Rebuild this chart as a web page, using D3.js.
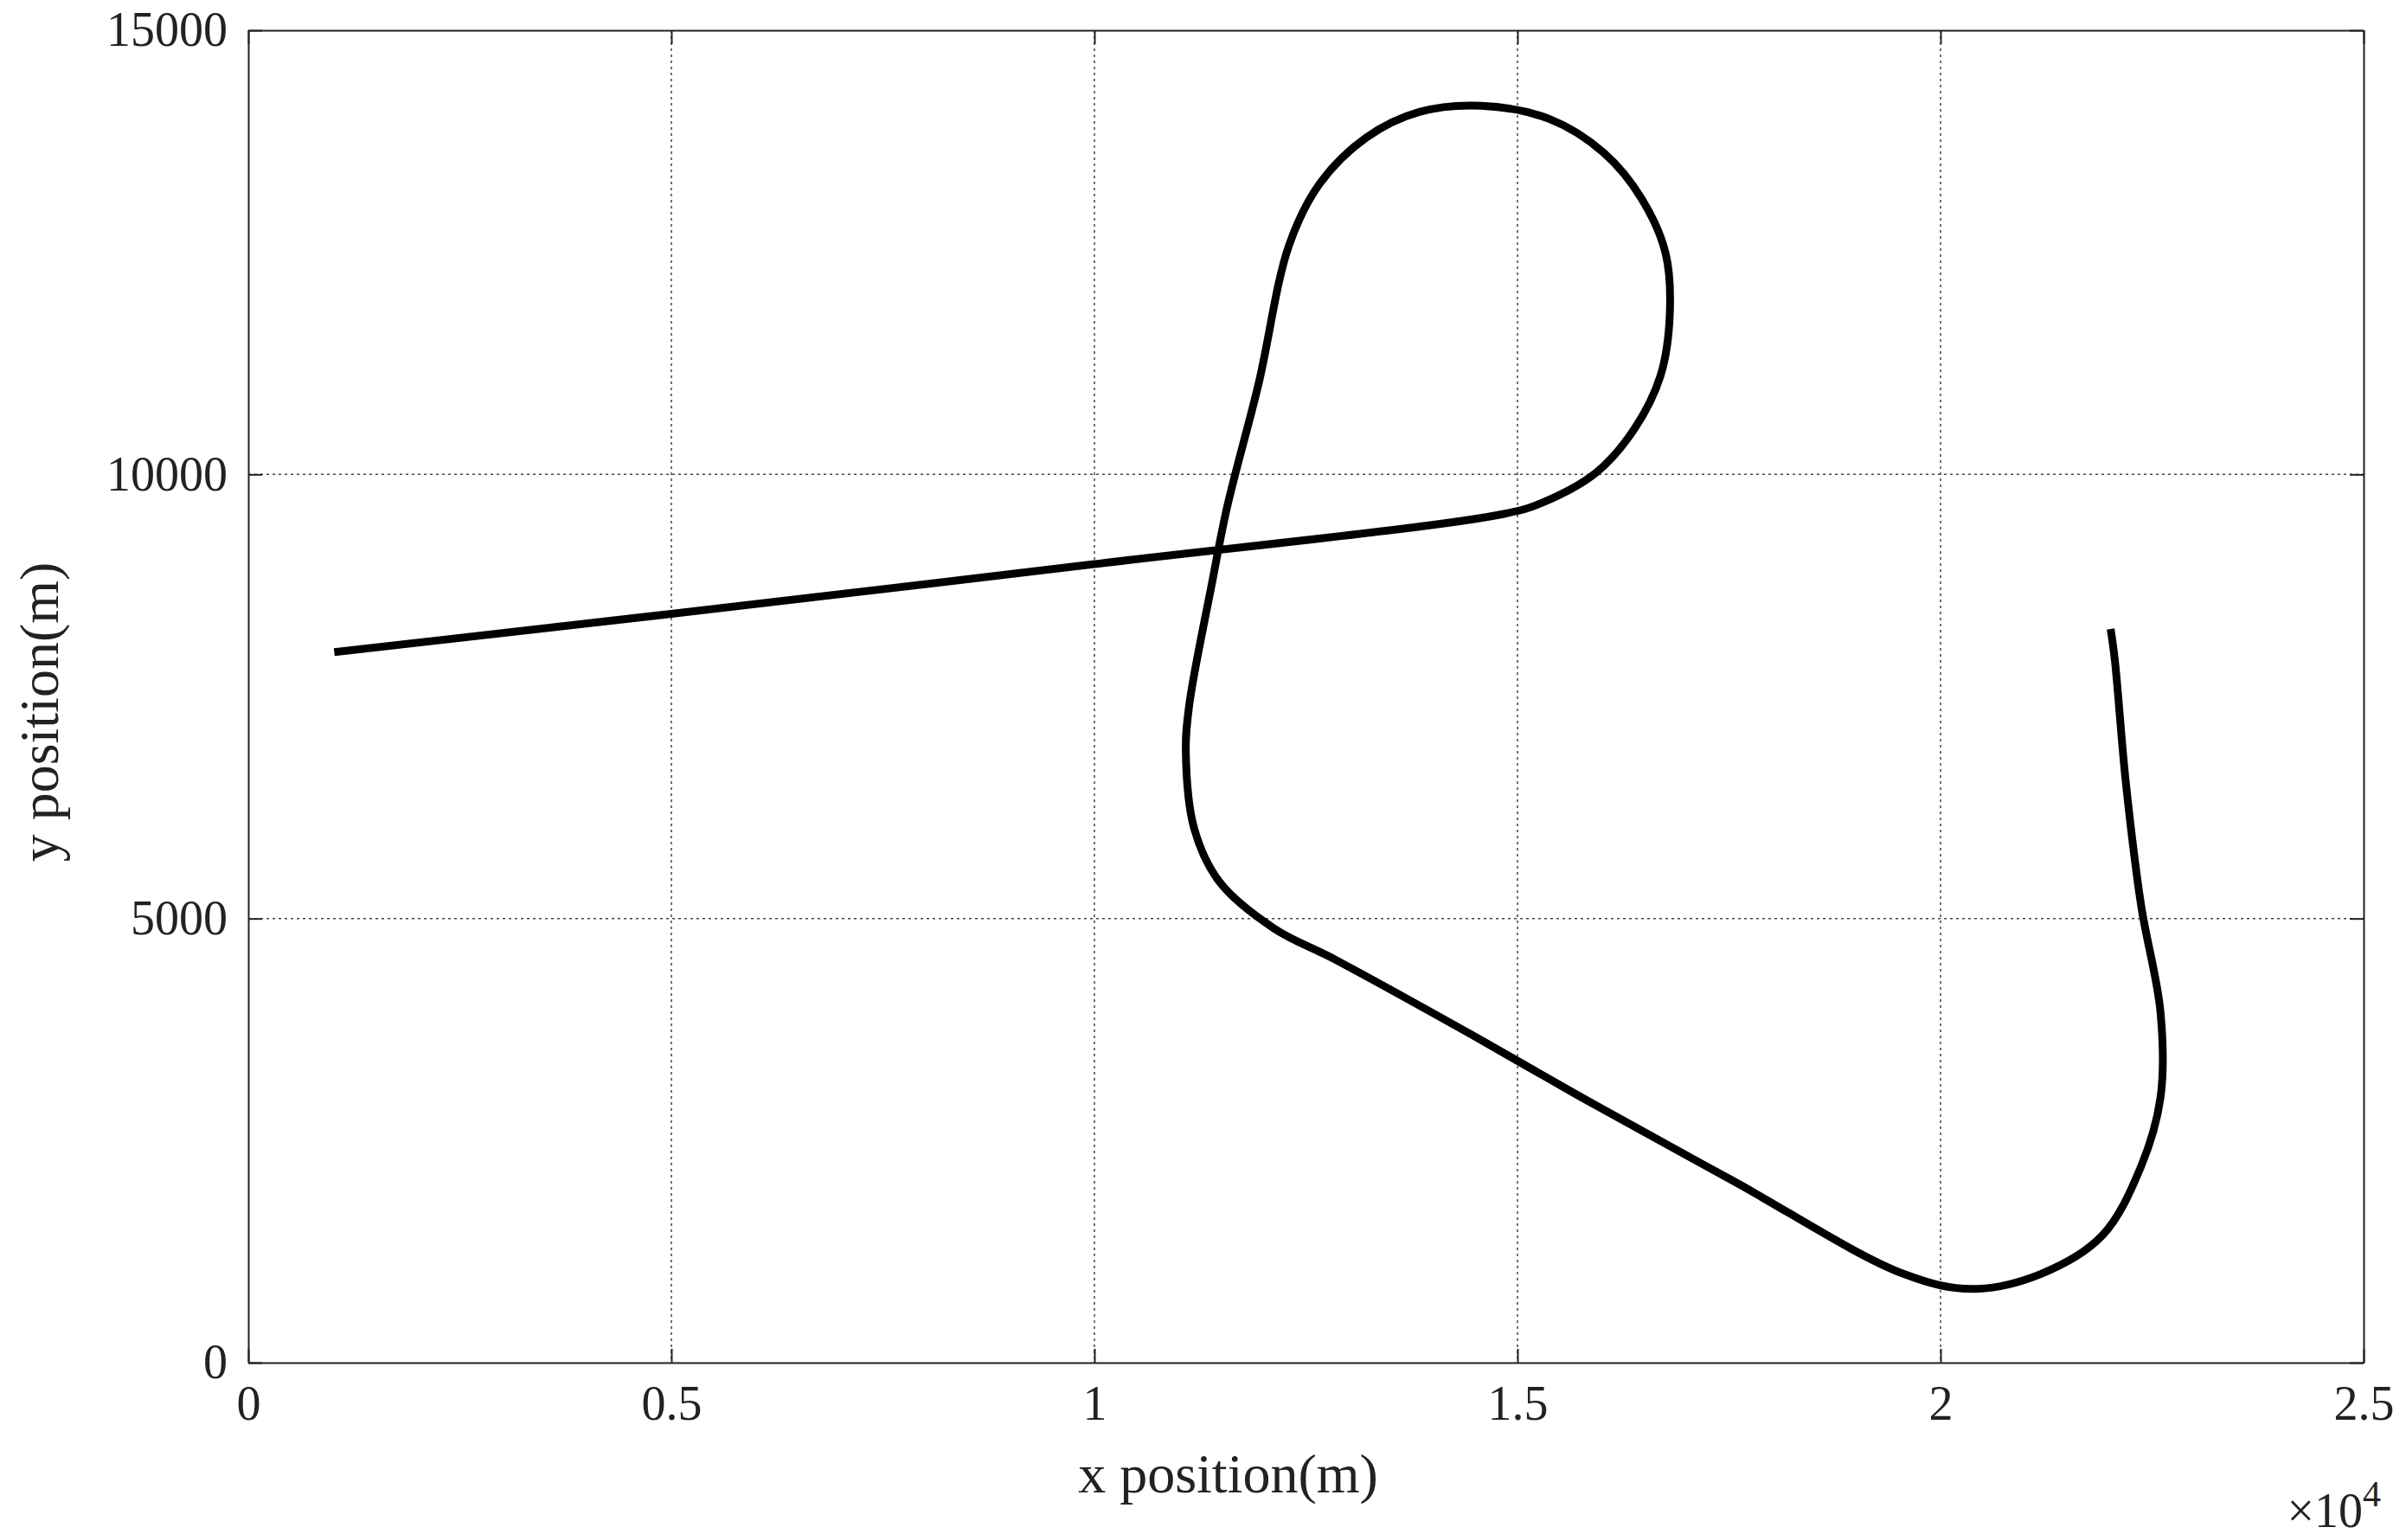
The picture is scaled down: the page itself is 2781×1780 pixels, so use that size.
<!DOCTYPE html>
<meta charset="utf-8">
<script src="https://d3js.org/d3.v7.min.js"></script>
<style>body{margin:0;background:#fff}</style>
<div id="chart"></div>
<script>
// trajectory points (m)
var xs = [1016,5000,10000,14840,15290,15930,16380,16690,16800,16750,16470,16020,15380,14570,13840,13210,12660,12300,11940,11570,11390,11120,11080,11180,11480,12120,12840,14480,15750,17560,19560,20370,21190,21910,22370,22600,22600,22370,22190,22060,22010];
var ys = [8000,8430,8990,9555,9680,10020,10510,11110,11800,12490,13100,13620,14000,14150,14080,13790,13270,12580,11020,9640,8780,7400,6880,6010,5410,4890,4540,3680,2990,2040,1000,830,1000,1430,2210,2990,3940,5150,6530,7910,8260];
var xTicks = [0,5000,10000,15000,20000,25000];
var xTickLabels = ["0","0.5","1","1.5","2","2.5"];
var yTicks = [0,5000,10000,15000];

var margin = {top: 35, right: 49, bottom: 205, left: 287},
    width = 2781 - margin.left - margin.right,
    height = 1780 - margin.top - margin.bottom;

var svg = d3.select("#chart").append("svg")
    .attr("width", 2781).attr("height", 1780)
  .append("g")
    .attr("transform", "translate(" + margin.left + "," + margin.top + ")");

var x = d3.scaleLinear().domain([0,25000]).range([0,width]);
var y = d3.scaleLinear().domain([0,15000]).range([height,0]);

// grid
svg.selectAll(".gx").data(xTicks.slice(1,-1)).enter().append("line")
    .attr("x1", d => x(d)).attr("x2", d => x(d)).attr("y1", 0).attr("y2", height)
    .style("stroke", "#444").style("stroke-width", 1.5).style("stroke-dasharray", "3,4");
svg.selectAll(".gy").data(yTicks.slice(1,-1)).enter().append("line")
    .attr("y1", d => y(d)).attr("y2", d => y(d)).attr("x1", 0).attr("x2", width)
    .style("stroke", "#444").style("stroke-width", 1.5).style("stroke-dasharray", "3,4");

var font = "'Liberation Serif', 'Times New Roman', serif";
function styleAxis(g) {
    g.selectAll("text").style("font-family", font).style("font-size", "56px").style("fill", "#222");
    g.selectAll("line, path").style("stroke", "#222").style("stroke-width", 2);
}
svg.append("g").attr("transform", "translate(0," + height + ")")
    .call(d3.axisBottom(x).tickValues(xTicks).tickFormat((d,i) => xTickLabels[i]).tickSizeInner(-16).tickSizeOuter(0).tickPadding(26))
    .call(styleAxis);
svg.append("g")
    .call(d3.axisLeft(y).tickValues(yTicks).tickFormat(d3.format("d")).tickSizeInner(-16).tickSizeOuter(0).tickPadding(24))
    .call(styleAxis);
svg.append("g")
    .call(d3.axisTop(x).tickValues(xTicks).tickFormat("").tickSizeInner(-16).tickSizeOuter(0))
    .call(styleAxis);
svg.append("g").attr("transform", "translate(" + width + ",0)")
    .call(d3.axisRight(y).tickValues(yTicks).tickFormat("").tickSizeInner(-16).tickSizeOuter(0))
    .call(styleAxis);

// trajectory
var pts = xs.map((d,i) => [d, ys[i]]);
svg.append("path").datum(pts)
    .attr("d", d3.line().x(d => x(d[0])).y(d => y(d[1])).curve(d3.curveCatmullRom))
    .style("fill", "none").style("stroke", "#000").style("stroke-width", 9).style("stroke-linejoin", "round");

// labels
svg.append("text").attr("x", width/2 - 90).attr("y", height + 150).attr("text-anchor", "middle")
    .style("font-family", font).style("font-size", "64px").style("fill", "#222").text("x position(m)");
svg.append("text").attr("transform", "translate(-220," + (height/2 + 18) + ") rotate(-90)").attr("text-anchor", "middle")
    .style("font-family", font).style("font-size", "64px").style("fill", "#222").text("y position(m)");
var t = svg.append("text").attr("x", width + 20).attr("y", height + 190).attr("text-anchor", "end")
    .style("font-family", font).style("font-size", "56px").style("fill", "#222");
t.append("tspan").text("×10");
t.append("tspan").attr("dy", -24).style("font-size", "42px").text("4");
</script>
